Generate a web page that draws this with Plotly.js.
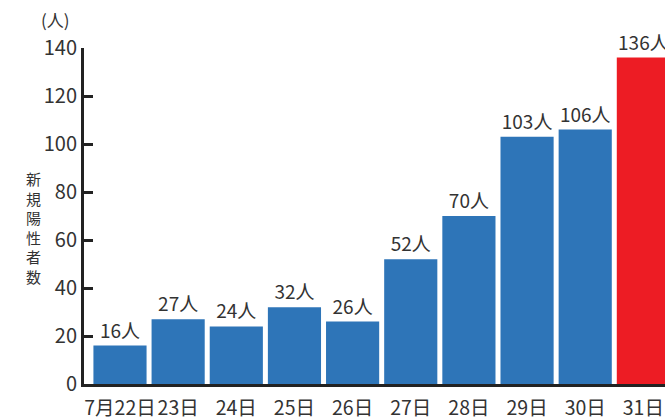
<!DOCTYPE html>
<html><head><meta charset="utf-8">
<script src="https://cdn.plot.ly/plotly-3.0.1.min.js"></script>
<style>html,body{margin:0;padding:0;overflow:hidden;background:#fff}</style>
</head><body>
<div id="chart" style="width:665px;height:420px"></div>
<script>
var categories = ["7月22日","23日","24日","25日","26日","27日","28日","29日","30日","31日"];
var cases = [16, 27, 24, 32, 26, 52, 70, 103, 106, 136];
var barColors = ["#2e75b8","#2e75b8","#2e75b8","#2e75b8","#2e75b8","#2e75b8","#2e75b8","#2e75b8","#2e75b8","#ed1c24"];
var labels = cases.map(function(v){return v + "人";});
var yTicks = [0, 20, 40, 60, 80, 100, 120, 140];
var yTitleChars = ["新","規","陽","性","者","数"];

var font = "'Noto Sans CJK JP', 'Noto Sans', sans-serif";
var trace = {
  type: "bar",
  x: categories,
  y: cases,
  marker: {color: barColors, line: {width: 0}},
  text: labels,
  textposition: "outside",
  cliponaxis: false,
  textfont: {family: font, size: 19, color: "#333333"},
  hoverinfo: "none"
};

var annotations = [
  {text: yTitleChars.join("<br>"), xref: "paper", yref: "paper",
    x: (33 - 84) / 581, y: (384 - 227) / 336,
    xanchor: "center", yanchor: "middle", showarrow: false, borderpad: 0,
    font: {family: font, size: 15, color: "#333333"}},
  {text: "(人)", xref: "paper", yref: "paper", x: (55 - 84) / 581, y: 1.0, yshift: 29,
    xanchor: "center", yanchor: "middle", showarrow: false, borderpad: 0,
    font: {family: font, size: 17, color: "#333333"}}
];

var layout = {
  width: 665, height: 420,
  margin: {l: 84, r: 0, t: 48, b: 36},
  paper_bgcolor: "#ffffff", plot_bgcolor: "#ffffff",
  showlegend: false,
  bargap: 0.086,
  font: {family: font, size: 18, color: "#333333"},
  xaxis: {
    type: "category",
    range: [-0.619, 9.372],
    showline: true, linecolor: "#222222", linewidth: 3,
    ticks: "", showgrid: false, zeroline: false,
    tickangle: 0,
    ticklabelstandoff: 5,
    tickfont: {family: font, size: 19.5, color: "#333333"},
    automargin: false
  },
  yaxis: {
    range: [0, 140],
    tickvals: yTicks,
    showline: true, linecolor: "#222222", linewidth: 3,
    ticks: "inside", ticklen: 9, tickwidth: 3, tickcolor: "#222222",
    showgrid: false, zeroline: false,
    tickfont: {family: font, size: 20, color: "#333333"},
    automargin: false
  },
  annotations: annotations
};
Plotly.newPlot("chart", [trace], layout, {displayModeBar: false, staticPlot: true});
</script>
</body></html>
